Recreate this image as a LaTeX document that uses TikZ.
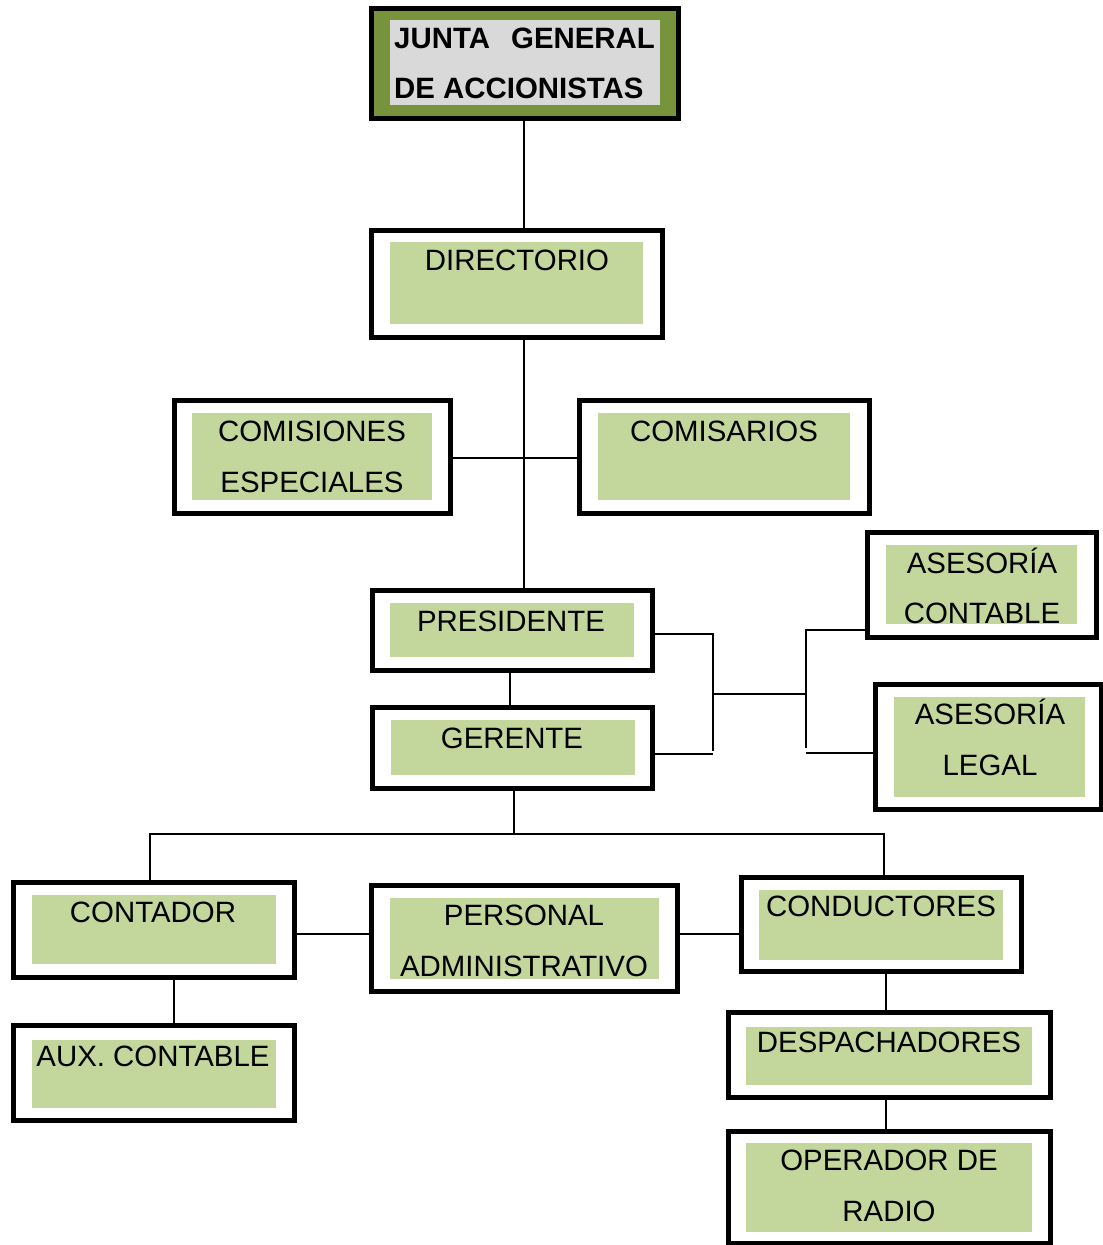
\documentclass[tikz,border=0pt]{standalone}
\usepackage{fontspec}
\setmainfont{Liberation Sans}
\usetikzlibrary{fit}
\definecolor{lgreen}{HTML}{C3D69B}
\definecolor{olive}{HTML}{77933C}
\definecolor{lgray}{HTML}{D9D9D9}
\begin{document}
\begin{tikzpicture}[x=1pt,y=-1pt,
  outerbox/.style={draw=black,line width=5pt,inner sep=0pt,fill=white},
  innerbox/.style={fill=lgreen,inner sep=0pt,draw=none},
  lbl/.style={font=\fontsize{29.4}{31}\selectfont,anchor=base,inner sep=0pt},
  blbl/.style={font=\fontsize{29.4}{31}\selectfont\bfseries,anchor=base west,inner sep=0pt},
  conn/.style={draw=black,line width=1.6pt}]
\useasboundingbox (0,0) rectangle (1103,1245);
% JUNTA
\node (jun) [outerbox,fill=olive,fit={(371,8)(678,118)}] {};
\node (jun-in) [fill=lgray,inner sep=0pt,fit={(390,20)(660,105)}] {};
\node (jun-t1) [blbl] at (394,48) {JUNTA\hspace{0.72em}GENERAL};
\node (jun-t2) [blbl] at (394,98) {DE ACCIONISTAS};
% DIRECTORIO
\node (dir) [outerbox,fit={(371,230)(662,337)}] {};
\node (dir-in) [innerbox,fit={(390,242)(643,324)}] {};
\node (dir-t) [lbl] at (517,270) {DIRECTORIO};
% COMISIONES
\node (com) [outerbox,fit={(174,400)(450,513)}] {};
\node (com-in) [innerbox,fit={(192,413)(432,500)}] {};
\node (com-t1) [lbl] at (312,441) {COMISIONES};
\node (com-t2) [lbl] at (312,492) {ESPECIALES};
% COMISARIOS
\node (cms) [outerbox,fit={(579,400)(869,513)}] {};
\node (cms-in) [innerbox,fit={(598,413)(850,500)}] {};
\node (cms-t) [lbl] at (724,441) {COMISARIOS};
% PRESIDENTE
\node (pre) [outerbox,fit={(372,590)(652,670)}] {};
\node (pre-in) [innerbox,fit={(390,603)(634,657)}] {};
\node (pre-t) [lbl] at (511,631) {PRESIDENTE};
% GERENTE
\node (ger) [outerbox,fit={(372,707)(652,788)}] {};
\node (ger-in) [innerbox,fit={(391,720)(635,775)}] {};
\node (ger-t) [lbl] at (512,748) {GERENTE};
% ASESORIA CONTABLE
\node (asc) [outerbox,fit={(867,532)(1096,637)}] {};
\node (asc-in) [innerbox,fit={(886,545)(1077,624)}] {};
\node (asc-t1) [lbl] at (982,573) {ASESORÍA};
\node (asc-t2) [lbl] at (982,623) {CONTABLE};
% ASESORIA LEGAL
\node (asl) [outerbox,fit={(875,684)(1101,809)}] {};
\node (asl-in) [innerbox,fit={(894,697)(1085,797)}] {};
\node (asl-t1) [lbl] at (990,724) {ASESORÍA};
\node (asl-t2) [lbl] at (990,775) {LEGAL};
% CONTADOR
\node (con) [outerbox,fit={(13,882)(294,977)}] {};
\node (con-in) [innerbox,fit={(32,895)(276,964)}] {};
\node (con-t) [lbl] at (153,922) {CONTADOR};
% PERSONAL
\node (per) [outerbox,fit={(371,885)(677,991)}] {};
\node (per-in) [innerbox,fit={(390,898)(659,979)}] {};
\node (per-t1) [lbl] at (524,925) {PERSONAL};
\node (per-t2) [lbl] at (524,976) {ADMINISTRATIVO};
% CONDUCTORES
\node (cond) [outerbox,fit={(741,877)(1021,971)}] {};
\node (cond-in) [innerbox,fit={(759,890)(1003,960)}] {};
\node (cond-t) [lbl] at (881,916) {CONDUCTORES};
% AUX CONTABLE
\node (aux) [outerbox,fit={(13,1025)(294,1120)}] {};
\node (aux-in) [innerbox,fit={(32,1040)(276,1108)}] {};
\node (aux-t) [lbl] at (153,1066) {AUX. CONTABLE};
% DESPACHADORES
\node (des) [outerbox,fit={(728,1012)(1050,1097)}] {};
\node (des-in) [innerbox,fit={(746,1027)(1032,1085)}] {};
\node (des-t) [lbl] at (889,1052) {DESPACHADORES};
% OPERADOR
\node (ope) [outerbox,fit={(728,1131)(1050,1243)}] {};
\node (ope-in) [innerbox,fit={(746,1143)(1032,1232)}] {};
\node (ope-t1) [lbl] at (889,1170) {OPERADOR DE};
\node (ope-t2) [lbl] at (889,1221) {RADIO};
% connectors
\draw[conn] (jun.south -| 524,0) -- (dir.north -| 524,0);
\draw[conn] (dir.south -| 524,0) -- (pre.north -| 524,0);
\draw[conn] (com.east |- 0,458) -- (cms.west |- 0,458);
\draw[conn] (pre.south -| 510,0) -- (ger.north -| 510,0);
\coordinate (j1) at (713,634);
\coordinate (j2) at (713,754);
\coordinate (j3) at (806,630);
\coordinate (j4) at (806,753);
\draw[conn] (pre.east |- j1) -- (j1) -- (713,751);
\draw[conn] (ger.east |- j2) -- (j2);
\draw[conn] (713,694) -- (806,694);
\draw[conn] (806,748) -- (j3) -- (asc.west |- j3);
\draw[conn] (j4) -- (asl.west |- j4);
\coordinate (g1) at (514,834);
\draw[conn] (ger.south -| g1) -- (g1);
\draw[conn] (con.north -| 150,0) -- (150,834) -- (884,834) -- (cond.north -| 884,0);
\draw[conn] (con.east |- 0,934) -- (per.west |- 0,934);
\draw[conn] (per.east |- 0,934) -- (cond.west |- 0,934);
\draw[conn] (con.south -| 174,0) -- (aux.north -| 174,0);
\draw[conn] (cond.south -| 886,0) -- (des.north -| 886,0);
\draw[conn] (des.south -| 886,0) -- (ope.north -| 886,0);
\end{tikzpicture}
\end{document}
